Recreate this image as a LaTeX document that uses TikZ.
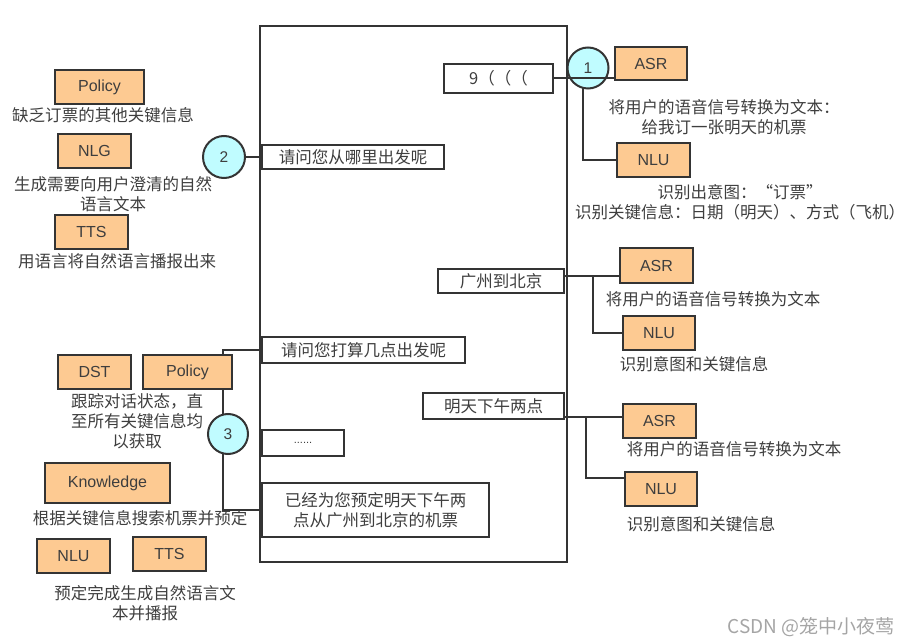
\documentclass[tikz,border=0pt]{standalone}
\usepackage{fontspec}
\setmainfont{Liberation Sans}
\newfontfamily\cjk{Noto Sans CJK SC}
\definecolor{boxfill}{RGB}{253,202,146}
\definecolor{dotfill}{RGB}{192,252,255}
\definecolor{ink}{RGB}{52,52,52}
\definecolor{txt}{RGB}{62,62,62}
\definecolor{wmark}{RGB}{165,165,165}
\begin{document}
\begin{tikzpicture}[x=1pt,y=-1pt,
  modbox/.style={draw=ink, line width=2.2pt, fill=boxfill, inner sep=0pt, text=txt,
    font=\fontsize{16}{18}\selectfont},
  msgbox/.style={draw=ink, line width=2pt, fill=white, inner sep=0pt, text=txt,
    font=\cjk\fontsize{16.5}{20}\selectfont, align=center},
  note/.style={text=txt, font=\cjk\fontsize{16.5}{20}\selectfont, align=center, inner sep=0pt},
  numdot/.style={circle, draw=ink, line width=2pt, fill=dotfill, inner sep=0pt,
    minimum size=41pt, text=txt, font=\fontsize{15.5}{18}\selectfont},
  link/.style={draw=ink, line width=2pt}
]
\useasboundingbox (0,0) rectangle (912,644);

% dialogue frame
\node[draw=ink, line width=2pt, inner sep=0pt, minimum width=307pt, minimum height=536pt] (frame) at (413.5,294) {};

% ---- turn 1: user request, ASR / NLU
\node[numdot] (c1) at (588,68) {1};
\node[modbox, minimum width=72pt, minimum height=33pt] (asr1) at (651,63.5) {ASR};
\node[modbox, minimum width=73pt, minimum height=34pt] (nlu1) at (653.5,160) {NLU};
\node[msgbox, minimum width=109pt, minimum height=29pt] (b9) at (498.5,78.5) {9（（（};
\draw[link] (b9.east) -- (b9.east -| asr1.west);
\coordinate (c1foot) at (583,87.5);
\draw[link] (c1foot) |- (nlu1.west);
\node[note] (t_asr1) at (724,117) {将用户的语音信号转换为文本：\\给我订一张明天的机票};
\node[note] (t_nlu1) at (740,202) {识别出意图：“订票”\\识别关键信息：日期（明天）、方式（飞机）};

% ---- turn 2: system asks origin
\node[msgbox, minimum width=182pt, minimum height=24pt] (q1) at (353,157) {请问您从哪里出发呢};
\node[numdot, minimum size=42pt] (c2) at (224,157) {2};
\draw[link] (c2.east) -- (q1.west);
\node[modbox, minimum width=89pt, minimum height=34pt] (pol1) at (99.5,87) {Policy};
\node[note] (t_pol1) at (103,115) {缺乏订票的其他关键信息};
\node[modbox, minimum width=73pt, minimum height=34pt] (nlg) at (94.5,151) {NLG};
\node[note] (t_nlg) at (113,194) {生成需要向用户澄清的自然\\语言文本};
\node[modbox, minimum width=73pt, minimum height=34pt] (tts1) at (91.5,232) {TTS};
\node[note] (t_tts1) at (117,261) {用语言将自然语言播报出来};

% ---- user answer: origin and destination
\node[msgbox, minimum width=126pt, minimum height=24pt] (gz) at (501,281) {广州到北京};
\node[modbox, minimum width=73pt, minimum height=35pt] (asr2) at (656.5,265.5) {ASR};
\node[modbox, minimum width=72pt, minimum height=34pt] (nlu2) at (659,333) {NLU};
\draw[link] ([yshift=5pt]gz.east) -- ([yshift=5pt]gz.east -| asr2.west);
\coordinate (br2) at (593,276);
\draw[link] (br2) |- (nlu2.west);
\node[note] (t_asr2) at (713,299) {将用户的语音信号转换为文本};
\node[note] (t_nlu2) at (694,364) {识别意图和关键信息};

% ---- turn 3: system asks time, then books
\node[msgbox, minimum width=203pt, minimum height=26pt] (q2) at (363.5,350) {请问您打算几点出发呢};
\node[msgbox, minimum width=82pt, minimum height=26pt, font=\fontsize{11}{12}\selectfont] (dots) at (303,443) {......};
\node[msgbox, minimum width=227pt, minimum height=54pt] (done) at (375.5,510) {已经为您预定明天下午两\\点从广州到北京的机票};
\coordinate (k1) at (223,350);
\coordinate (k2) at (223,510);
\draw[link] (q2.west) -- (k1) -- (k2) -- (done.west);
\node[numdot, minimum size=40pt] (c3) at (228,434) {3};

\node[modbox, minimum width=73pt, minimum height=34pt] (dst) at (94.5,372) {DST};
\node[modbox, minimum width=89pt, minimum height=34pt] (pol2) at (187.5,372) {Policy};
\node[note] (t_dst) at (137,421.5) {跟踪对话状态，直\\至所有关键信息均\\以获取};
\node[modbox, minimum width=125pt, minimum height=40pt] (know) at (107.5,483) {Knowledge};
\node[note] (t_know) at (140,518) {根据关键信息搜索机票并预定};
\node[modbox, minimum width=73pt, minimum height=34pt] (nlu4) at (73.5,556) {NLU};
\node[modbox, minimum width=73pt, minimum height=34pt] (tts2) at (169.5,554) {TTS};
\node[note] (t_fin) at (145,603) {预定完成生成自然语言文\\本并播报};

% ---- user answer: time
\node[msgbox, minimum width=141pt, minimum height=26pt] (mt) at (493.5,406) {明天下午两点};
\node[modbox, minimum width=73pt, minimum height=34pt] (asr3) at (659.5,421) {ASR};
\node[modbox, minimum width=72pt, minimum height=34pt] (nlu3) at (661,489) {NLU};
\draw[link] ([yshift=-11pt]mt.east) -- ([yshift=-11pt]mt.east -| asr3.west);
\coordinate (br3) at (586,417);
\draw[link] (br3) |- ([yshift=11pt]nlu3.west);
\node[note] (t_asr3) at (734,449) {将用户的语音信号转换为文本};
\node[note] (t_nlu3) at (701,524) {识别意图和关键信息};

% author mark
\node[text=wmark, font=\cjk\fontsize{19}{21}\selectfont, inner sep=0pt] (wm) at (811,627) {CSDN @笼中小夜莺};
\end{tikzpicture}
\end{document}
